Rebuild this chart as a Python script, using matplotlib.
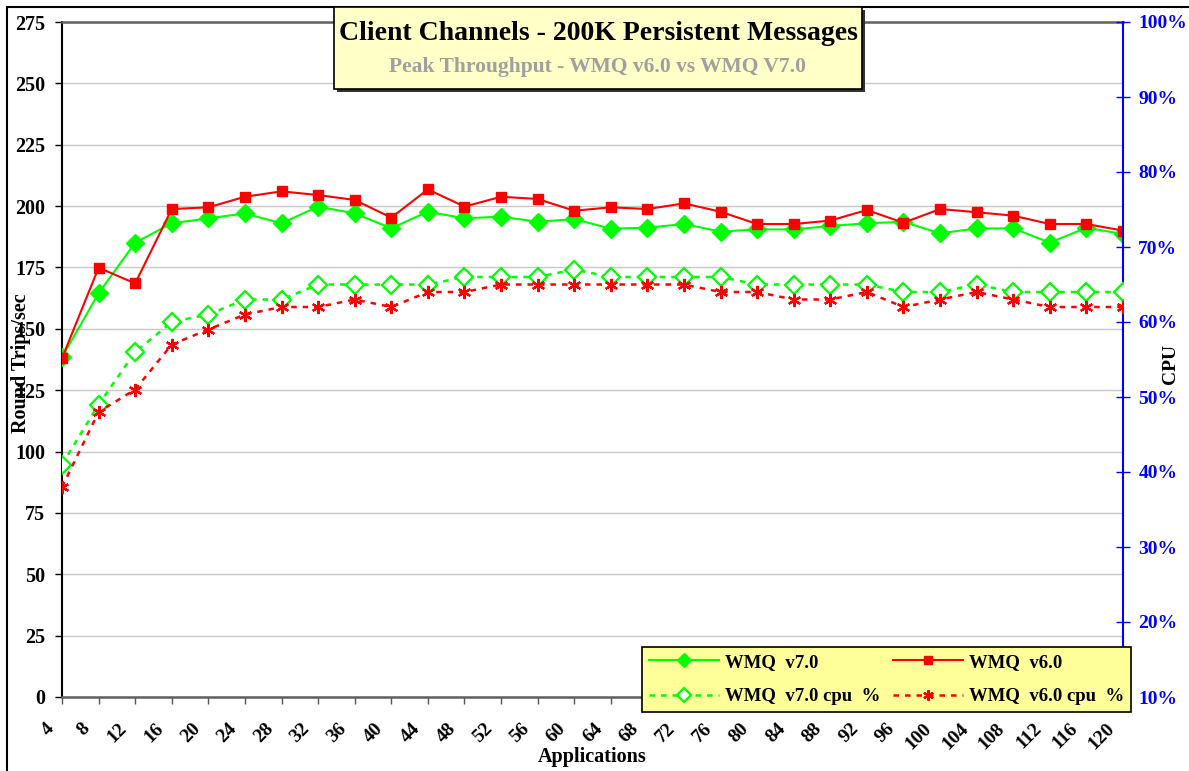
import matplotlib
matplotlib.use('Agg')
import matplotlib.pyplot as plt
import matplotlib.transforms as mtransforms
from matplotlib.patches import Rectangle
from matplotlib.ticker import FuncFormatter, MultipleLocator
import numpy as np

apps = [4, 8, 12, 16, 20, 24, 28, 32, 36, 40, 44, 48, 52, 56, 60,
        64, 68, 72, 76, 80, 84, 88, 92, 96, 100, 104, 108, 112, 116, 120]
wmq70 = [138.4, 164.5, 185.1, 193.0, 195.0, 197.0, 193.0, 199.8, 197.0, 191.0,
         197.7, 195.0, 195.7, 193.6, 194.7, 190.8, 191.2, 192.7, 189.6, 190.5,
         190.5, 191.9, 193.0, 193.6, 188.9, 190.9, 190.9, 185.1, 191.2, 188.6]
wmq60 = [138.0, 174.9, 168.5, 198.8, 199.5, 203.8, 206.0, 204.5, 202.5, 195.3,
         206.8, 199.8, 203.8, 202.9, 198.1, 199.5, 198.8, 201.1, 197.7, 192.7,
         192.7, 194.1, 198.4, 193.2, 198.8, 197.5, 196.1, 192.7, 192.7, 190.0]
wmq70_cpu = [41, 49, 56, 60, 61, 63, 63, 65, 65, 65,
             65, 66, 66, 66, 67, 66, 66, 66, 66, 65,
             65, 65, 65, 64, 64, 65, 64, 64, 64, 64]
wmq60_cpu = [38, 48, 51, 57, 59, 61, 62, 62, 63, 62,
             64, 64, 65, 65, 65, 65, 65, 65, 64, 64,
             63, 63, 64, 62, 63, 64, 63, 62, 62, 62]

W, H = 1189, 771
plt.rcParams['font.family'] = ['Liberation Serif', 'DejaVu Serif']
plt.rcParams['font.weight'] = 'bold'

fig = plt.figure(figsize=(W / 100, H / 100), dpi=100)


def fx(px):
    return px / W


def fy(py):
    return 1 - py / H


# outer frame (right and bottom edges fall outside the picture)
fig.patches.append(Rectangle((fx(7), fy(790)), fx(1210) - fx(7), fy(7) - fy(790),
                             transform=fig.transFigure, fill=False,
                             edgecolor='black', lw=1.5, zorder=0))

AX_L, AX_R, AX_T, AX_B = 62, 1123, 22, 697
ax = fig.add_axes([fx(AX_L), fy(AX_B), fx(AX_R) - fx(AX_L), fy(AX_T) - fy(AX_B)])
x = np.arange(len(apps))

GREEN = '#00FF00'
RED = '#FF0000'
BLUE = '#0000FF'

h1, = ax.plot(x, wmq70, color=GREEN, lw=1.5, marker='D', ms=9,
              mfc=GREEN, mec=GREEN, label='WMQ  v7.0', zorder=5)
h2, = ax.plot(x, wmq60, color=RED, lw=1.5, marker='s', ms=7.5,
              mfc=RED, mec=RED, label='WMQ  v6.0', zorder=5)
ax.set_xlim(0, len(apps) - 1)
ax.set_ylim(0, 275)
ax.yaxis.set_major_locator(MultipleLocator(25))
ax.set_xticks(x)
ax.set_xticklabels([str(a) for a in apps], rotation=45, ha='right',
                   va='center', rotation_mode='anchor', fontsize=14, fontweight='bold')
ax.tick_params(axis='x', length=5, width=1, color='#555555', pad=16)
offset = mtransforms.ScaledTranslation(-11 / 100, 0, fig.dpi_scale_trans)
for lab in ax.get_xticklabels():
    lab.set_transform(lab.get_transform() + offset)
ax.tick_params(axis='y', length=5, width=1, color='black', pad=7, labelsize=14.4)
ax.grid(axis='y', color='#C8C8C8', lw=1)
ax.set_axisbelow(True)
for s in ['top', 'bottom']:
    ax.spines[s].set_color('#606060')
    ax.spines[s].set_linewidth(1.8)
ax.spines['left'].set_color('black')
ax.spines['left'].set_linewidth(1.5)
ax.spines['right'].set_visible(False)
ax.set_ylabel('Round Trips/sec', fontsize=14.5, fontweight='bold')
ax.yaxis.set_label_coords((31 - AX_L) / (AX_R - AX_L), (AX_B - 363) / (AX_B - AX_T))
ax.set_xlabel('Applications', fontsize=14.5, fontweight='bold')
ax.xaxis.set_label_coords(0.5, -(757 - AX_B) / (AX_B - AX_T))
ax.xaxis.label.set_va('center')

ax2 = ax.twinx()
h3, = ax2.plot(x, wmq70_cpu, color=GREEN, lw=1.8, ls=(0, (2.2, 2.4)), marker='D', ms=9,
               mfc='white', mec=GREEN, mew=1.6, label='WMQ  v7.0 cpu  %', zorder=4)
h4, = ax2.plot(x, wmq60_cpu, color=RED, lw=1.8, ls=(0, (2.2, 2.4)), marker=(6, 2, 0), ms=9.5,
               mfc=RED, mec=RED, mew=1.6, label='WMQ  v6.0 cpu  %', zorder=4)
ax2.set_ylim(10, 100)
ax2.yaxis.set_major_locator(MultipleLocator(10))
ax2.yaxis.set_major_formatter(FuncFormatter(lambda v, p: f'{v:.0f}%'))
ax2.tick_params(axis='y', direction='inout', length=10, width=1, color=BLUE,
                labelcolor=BLUE, labelsize=14, pad=6)
for s in ['top', 'bottom', 'left']:
    ax2.spines[s].set_visible(False)
ax2.spines['right'].set_color(BLUE)
ax2.spines['right'].set_linewidth(1.5)
ax2.set_ylabel('CPU', fontsize=14, fontweight='bold', rotation=90)
ax2.yaxis.set_label_coords((1162 - AX_L) / (AX_R - AX_L), (AX_B - 364) / (AX_B - AX_T))
for lab in ax2.get_yticklabels():
    lab.set_fontweight('bold')
for lab in ax.get_yticklabels():
    lab.set_fontweight('bold')

# legend
leg = fig.legend([h1, h3, h2, h4],
                 [h1.get_label(), h3.get_label(), h2.get_label(), h4.get_label()],
                 ncol=2, loc='center',
                 bbox_to_anchor=(fx(886.5), fy(679.5)),
                 frameon=True, fancybox=False, shadow=False,
                 facecolor='#FFFF99', edgecolor='black', framealpha=1,
                 prop={'family': 'Liberation Serif', 'weight': 'bold', 'size': 13.5},
                 handlelength=3.73, columnspacing=0.7, handletextpad=0.32,
                 labelspacing=0.92, borderpad=0.35, markerscale=0.8)
leg.get_frame().set_linewidth(1.2)
leg.set_zorder(20)

# title box with shadow
tb_x0, tb_x1, tb_y0, tb_y1 = 334, 862, 7, 89
fig.patches.append(Rectangle((fx(tb_x0 + 3), fy(tb_y1 + 3)), fx(tb_x1) - fx(tb_x0),
                             fy(tb_y0) - fy(tb_y1), transform=fig.transFigure,
                             facecolor='#333333', edgecolor='none', zorder=10))
fig.patches.append(Rectangle((fx(tb_x0), fy(tb_y1)), fx(tb_x1) - fx(tb_x0),
                             fy(tb_y0) - fy(tb_y1), transform=fig.transFigure,
                             facecolor='#FFFFC8', edgecolor='black', lw=1.2, zorder=11))
fig.text(fx(598), fy(34), 'Client Channels - 200K Persistent Messages', ha='center',
         va='center', fontsize=20, fontweight='bold', color='black', zorder=12)
fig.text(fx(598), fy(67), 'Peak Throughput - WMQ v6.0 vs WMQ V7.0', ha='center',
         va='center', fontsize=15.5, fontweight='bold', color='#A0A0A0', zorder=12)

fig.savefig('out.png', dpi=100)
